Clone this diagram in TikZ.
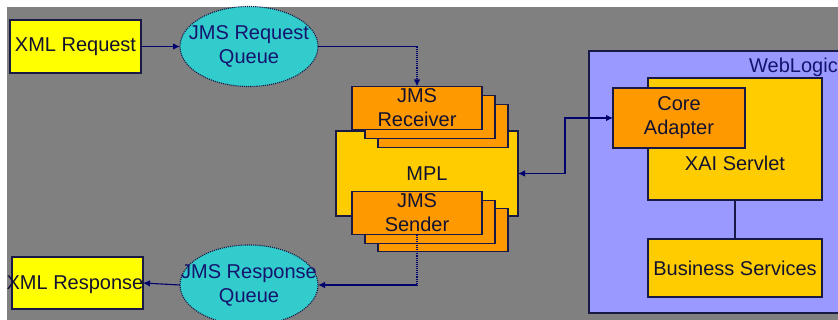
\documentclass[tikz,border=0pt]{standalone}
\usepackage{fontspec}
\setmainfont{Liberation Sans}
\usetikzlibrary{arrows.meta,shapes.geometric}
\definecolor{bggray}{RGB}{128,128,128}
\definecolor{boxyellow}{RGB}{255,255,0}
\definecolor{boxgold}{RGB}{255,204,0}
\definecolor{boxorange}{RGB}{255,153,0}
\definecolor{qcyan}{RGB}{51,204,204}
\definecolor{wlblue}{RGB}{153,153,255}
\definecolor{edgenavy}{RGB}{25,25,70}
\definecolor{linenavy}{RGB}{0,0,110}
\definecolor{txtnavy}{RGB}{20,20,110}
\tikzset{
  every node/.style={font=\fontsize{20}{24}\selectfont, text=edgenavy!70!black},
  box/.style={draw=edgenavy, line width=1.1pt, inner sep=0pt, outer sep=0pt, align=center},
  queue/.style={ellipse, draw=edgenavy, densely dotted, line width=1.1pt, fill=qcyan, inner sep=0pt, outer sep=0pt, minimum width=138pt, minimum height=80pt},
  qtext/.style={inner sep=0pt, align=center, text=txtnavy},
  stackbox/.style={box, fill=boxorange, minimum width=130pt, minimum height=43pt},
  conn/.style={draw=linenavy, line width=1.1pt},
  tip/.style={-{Latex[length=7pt,width=6.5pt]}},
}
\begin{document}
\begin{tikzpicture}[x=1pt,y=-1pt]
\useasboundingbox (0,0) rectangle (838,320);
\clip (0,0) rectangle (838,320);
\fill[white] (0,0) rectangle (838,320);
\fill[bggray] (7,7) rectangle (845,330);

% WebLogic container
\node[box, fill=wlblue, minimum width=270pt, minimum height=262pt] (wl) at (724,182) {};
\node[anchor=west, inner sep=0pt, text=txtnavy] (wllbl) at (749,67) {WebLogic};

\node[box, fill=boxgold, minimum width=174pt, minimum height=122pt] (xai) at (735,139) {};
\node[inner sep=0pt] (xailbl) at ([yshift=-24pt]xai.center) {XAI Servlet};
\node[box, fill=boxorange, minimum width=132pt, minimum height=60pt] (core) at (679,118) {Core\\Adapter};
\node[box, fill=boxgold, minimum width=174pt, minimum height=58pt] (biz) at (735,268) {Business Services};

% MPL with stacks
\node[box, fill=boxgold, minimum width=182pt, minimum height=85pt] (mpl) at (427,173.5) {MPL};
\node[stackbox] (recv3) at (443,126) {};
\node[stackbox] (recv2) at (430,117) {};
\node[stackbox] (recv1) at (417,108) {JMS\\Receiver};
\node[stackbox] (send3) at (443,230) {};
\node[stackbox] (send2) at (430,222) {};
\node[stackbox] (send1) at (417,213) {JMS\\Sender};

% left side
\node[box, fill=boxyellow, minimum width=131pt, minimum height=53pt] (xmlreq) at (75.5,46.5) {XML Request};
\node[queue] (reqq) at (249,46.5) {};
\node[qtext] (reqqlbl) at (reqq.center) {JMS Request\\Queue};
\node[queue] (respq) at (249,285) {};
\node[qtext] (respqlbl) at (respq.center) {JMS Response\\Queue};
\node[box, fill=boxyellow, minimum width=131pt, minimum height=52pt] (xmlresp) at (77.5,283) {};
\node[inner sep=0pt] (xmlresplbl) at (75,285) {XML Response};

% connectors
\coordinate (c1) at (reqq.east -| recv1.north);
\coordinate (c2) at (send1.south |- respq.east);
\draw[conn, tip] (xmlreq.east) -- (reqq.west);
\draw[conn] (reqq.east) -- (c1);
\draw[conn, densely dotted, tip] (c1) -- (recv1.north);
\draw[conn, densely dotted] (send1.south) -- (c2);
\draw[conn, tip] (c2) -- (respq.east);
\draw[conn, tip] (respq.west) -- (xmlresp.east);
\draw[conn, {Latex[length=7pt,width=6.5pt]}-{Latex[length=7pt,width=6.5pt]}] (mpl.east) -- ++(47,0) |- (core.west);
\draw[conn, draw=edgenavy] (xai.south) -- (biz.north);
\end{tikzpicture}
\end{document}
